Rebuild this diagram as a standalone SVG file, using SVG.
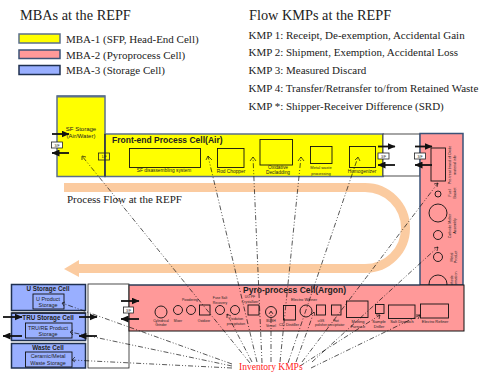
<svg xmlns="http://www.w3.org/2000/svg" width="485" height="372" viewBox="0 0 485 372">
<style>
text{font-family:"Liberation Sans",Arial,sans-serif;fill:#222}
.s{font-family:"Liberation Serif","Times New Roman",serif;fill:#222}
.h{font-size:14.300px}.k{font-size:11px}
.t{font-size:3.400px;text-anchor:middle}
.r{font-size:4px;text-anchor:middle}
.f{font-size:4.800px;text-anchor:middle}
.c{font-size:5.400px;text-anchor:middle}
.b{font-weight:bold}
.cell{font-size:6.300px;font-weight:bold;text-anchor:middle}
.y{fill:#ffff00;stroke:#5b6f8c;stroke-width:1.500}
.p{fill:#ff9999;stroke:#3b5378;stroke-width:1.500}
.u{fill:#99afff;stroke:#1f3050;stroke-width:1.500}
.o{fill:none;stroke:#111;stroke-width:.9}
.w{fill:#fff;stroke:#222;stroke-width:.8}
.ln{fill:none;stroke:#111;stroke-width:.7;stroke-dasharray:5 2 1 2 1 2}
.ar{fill:none;stroke:#111;stroke-width:.7}
.fa{fill:none;stroke:#111;stroke-width:1.800;marker-end:url(#m)}
</style>
<defs><marker id="m" markerUnits="userSpaceOnUse" markerWidth="8" markerHeight="7" refX="7.500" refY="3.500" orient="auto"><path d="M0 0L8 3.500L0 7z" fill="#111"/></marker></defs>
<g id="legend">
<text class="s h" x="20" y="20">MBAs at the REPF</text>
<rect class="y" x="19" y="34" width="41" height="9"/><text class="s k" x="66" y="42.500">MBA-1 (SFP, Head-End Cell)</text>
<rect class="p" x="19" y="50" width="41" height="8.500"/><text class="s k" x="66" y="58.500">MBA-2 (Pyroprocess Cell)</text>
<rect class="u" x="19" y="65.500" width="41" height="9"/><text class="s k" x="66" y="74">MBA-3 (Storage Cell)</text>
<text class="s h" x="249" y="20">Flow KMPs at the REPF</text>
<text class="s k" x="248.500" y="38.500">KMP 1: Receipt, De-exemption, Accidental Gain</text>
<text class="s k" x="248.500" y="56">KMP 2: Shipment, Exemption, Accidental Loss</text>
<text class="s k" x="248.500" y="73.500">KMP 3: Measured Discard</text>
<text class="s k" x="248.500" y="91.500">KMP 4: Transfer/Retransfer to/from Retained Waste</text>
<text class="s k" x="248.500" y="109.500">KMP *: Shipper-Receiver Difference (SRD)</text>
</g>
<g id="flow">
<path d="M64 187.500H365A40.500 40.500 0 0 1 365 268.500H78" fill="none" stroke="#fbcba0" stroke-width="9"/>
<path d="M64 269L79 260V277z" fill="#fbcba0"/>
<text class="s" font-size="11" x="67" y="203">Process Flow at the REPF</text>
</g>
<g id="sf-storage">
<rect class="y" x="57" y="96" width="48" height="80.500"/>
<path d="M57 96.500H105" stroke="#5b6f8c" stroke-width="2" fill="none"/>
<text font-size="6" text-anchor="middle" x="81" y="131">SF Storage</text><text font-size="6" text-anchor="middle" x="81" y="138">(Air/Water)</text>
</g>
<g id="front-end">
<rect class="y" x="105" y="134" width="278" height="42.500"/>
<path d="M105 134V176.500" stroke="#111" fill="none"/>
<text class="b" font-size="8.500" x="112" y="143">Front-end Process Cell(Air)</text>
<rect class="o" x="129.500" y="148.500" width="71" height="19"/><text class="f" x="164" y="172">SF disassembling system</text>
<rect class="o" x="217.500" y="148.500" width="26.500" height="19"/><text class="f" x="231" y="173">Rod Chopper</text>
<rect class="o" x="260" y="139.500" width="32.500" height="25.500"/><text class="f" x="278" y="168.500">Oxidative</text><text class="f" x="278" y="174">Decladding</text>
<rect class="o" x="310.500" y="146.500" width="21.500" height="17"/><text class="r" x="321" y="169">Metal waste</text><text class="r" x="321" y="174.500">processing</text>
<rect class="o" x="349.500" y="146.500" width="26" height="21"/><text class="f" x="362" y="173">Homogenizer</text>
</g>
<g id="airlock-top"><rect x="383" y="134" width="37" height="42" fill="#fff" stroke="#222" stroke-width=".8"/></g>
<g id="pyro-column">
<rect class="p" x="420" y="133.500" width="43" height="151.500"/>
<rect class="o" x="431" y="148" width="14.500" height="33"/>
<circle class="o" cx="438" cy="194" r="3"/><circle class="o" cx="438" cy="213" r="9"/><circle class="o" cx="438" cy="235" r="4.500"/><circle class="o" cx="438" cy="257" r="4.500"/><circle class="o" cx="438" cy="284" r="9"/>
<g font-size="3.600" text-anchor="middle">
<text transform="translate(451 165) rotate(-90)">Pre-treat brand of Oxide</text><text transform="translate(455.500 165) rotate(-90)">material info</text>
<text transform="translate(451 193) rotate(-90)">Fuel</text><text transform="translate(455.500 193) rotate(-90)">Basket</text>
<text transform="translate(451 226) rotate(-90)">Cathode Melter</text><text transform="translate(455.500 226) rotate(-90)">Assembly</text>
<text transform="translate(452.500 257) rotate(-90)">Metal</text><text transform="translate(457 257) rotate(-90)">Product</text>
<text transform="translate(452.500 282) rotate(-90)">Cathode</text><text transform="translate(457 282) rotate(-90)">ion formation</text>
</g>
</g>
<g id="airlock-bottom"><rect x="88" y="284" width="41" height="84" fill="#fff" stroke="#222" stroke-width=".8"/></g>
<g id="pyro-cell">
<rect x="129" y="285" width="335" height="46" fill="#ff9999" stroke="#111" stroke-width="1"/>
<path d="M129 285H420" stroke="#3b5378" fill="none"/>
<text class="b" font-size="8.500" x="243" y="293">Pyro-process Cell(Argon)</text>
<circle class="o" cx="161" cy="312" r="6"/><text class="t" x="161" y="322">Cylindrical</text><text class="t" x="161" y="326">Grinder</text>
<circle class="o" cx="178" cy="310" r="4.500"/><text class="t" x="178" y="322">Mixer</text>
<circle class="o" cx="191" cy="310" r="4.500"/><text class="t" x="190" y="301">Powdering</text>
<rect class="o" x="199.500" y="305" width="10.500" height="10"/><text class="t" x="204" y="322">Oxidizer</text>
<circle class="o" cx="220" cy="310" r="4.500"/><text class="t" x="220" y="299">Fuse Salt</text><text class="t" x="220" y="303.500">Recovery</text>
<circle class="o" cx="235" cy="310" r="4.500"/><text class="t" x="236" y="320">Oxidation</text><text class="t" x="236" y="324.500">precipitation</text>
<rect class="o" x="248" y="305" width="11" height="10"/><text class="t" x="250" y="298">UO PF</text><text class="t" x="250" y="302.500">Crystallizer</text>
<circle class="o" cx="271" cy="312" r="5.500"/><text class="t" x="271" y="322">BUSH</text><text class="t" x="271" y="327">Vessel</text>
<rect class="o" x="283.500" y="305.500" width="12" height="14.500"/><text class="r" x="289" y="325.500">CD Distiller</text>
<circle class="o" cx="306" cy="311" r="6"/><text class="r" x="304" y="301">Electro Winner</text>
<rect class="o" x="316.500" y="305" width="9" height="10"/><text class="t" x="321" y="322">uGS</text><text class="t" x="321" y="326">polisher</text>
<rect class="o" x="331.500" y="305" width="9.500" height="10"/><text class="t" x="336" y="322">Hot</text><text class="t" x="336" y="326">precipitator</text>
<rect class="o" x="346.500" y="301" width="21.500" height="16.500"/><text class="r" x="358" y="323">Melting</text><text class="r" x="358" y="328">Furnace</text>
<rect class="o" x="375.500" y="304.500" width="8.500" height="9"/><text class="r" x="379" y="323">Sample</text><text class="r" x="379" y="328">Driller</text>
<rect class="o" x="388.500" y="305" width="26.500" height="13.500"/><text class="r" x="402" y="323">Salt Dispatch</text>
<rect class="o" x="420.500" y="304" width="28" height="14"/><text class="r" x="435" y="323">Electro Refiner</text>
</g>
<g id="storage">
<rect class="u" x="11.500" y="284.500" width="74" height="26"/>
<text class="cell" x="48" y="291">U Storage Cell</text>
<rect class="o" x="33" y="294" width="31" height="15"/><text class="c" x="48" y="300.500">U Product</text><text class="c" x="48" y="307">Storage</text>
<rect class="u" x="11.500" y="313" width="74" height="27.500"/>
<path d="M11.500 313H85.500" stroke="#111" fill="none"/>
<text class="cell" x="48" y="319.500">TRU Storage Cell</text>
<rect class="o" x="25.500" y="323" width="46.500" height="15"/><text class="c" x="48" y="329.500">TRU/RE Product</text><text class="c" x="48" y="336">Storage</text>
<rect class="u" x="11.500" y="343.500" width="74" height="24.500"/>
<text class="cell" x="48" y="349.500">Waste Cell</text>
<rect class="o" x="25.500" y="352" width="46.500" height="15"/><text class="c" x="48" y="358">Ceramic/Metal</text><text class="c" x="48" y="364.500">Waste Storage</text>
</g>
<g id="connectors">
<path class="ln" d="M250 363L82 156"/><path class="ar" d="M82 160L82 156L86 157"/>
<path class="ln" d="M257 362L208 156"/><path class="ar" d="M206 160L208 156L212 160"/>
<path class="ln" d="M262 363L253 157"/><path class="ar" d="M250 161L253 157L256 161"/>
<path class="ln" d="M280 362L301 157"/><path class="ar" d="M298 161L301 157L304 161"/>
<path class="ln" d="M288 363L358 157"/><path class="ar" d="M355 160L358 157L360 161"/>
<path class="ln" d="M302 362L438 183"/><path class="ar" d="M434 184L438 183L437 187"/>
<path class="ln" d="M312 362L438 247"/><path class="ar" d="M434 248L438 247L437 251"/>
<path class="ln" d="M296 362L314 312"/><path class="ar" d="M311 315L314 312L315 316"/>
<path class="ln" d="M271 362V311"/><path class="ar" d="M269 314L271 311L273 314"/>
<path class="ln" d="M252 362L227 314"/><path class="ar" d="M227 318L227 314L231 316"/>
<path class="ln" d="M300 366L380 315"/><path class="ar" d="M376 315L380 315L379 319"/>
<path class="ln" d="M311 368L420 315"/><path class="ar" d="M416 315L420 315L418 319"/>
<path class="ln" d="M232 364L62 303"/><path class="ar" d="M65 302L62 303L64 306"/>
<path class="ln" d="M232 366L70 332"/><path class="ar" d="M73 330L70 332L73 335"/>
<path class="ln" d="M232 368L72 360"/><path class="ar" d="M75 357L72 360L75 362"/>
<path class="fa" d="M52 134H69"/><path class="fa" d="M69 153H52"/>
<path class="fa" d="M378 146.500H395"/><path class="fa" d="M395 165H378"/>
<path class="fa" d="M415 146.500H432"/><path class="fa" d="M432 165H415"/>
<path class="fa" d="M121 301H139"/><path class="fa" d="M139 319H121"/>
<path class="fa" d="M3 317H22"/><path class="fa" d="M22 336H3"/>
<path class="fa" d="M79 317H97"/><path class="fa" d="M97 336H79"/>
<rect class="w" x="51.500" y="142" width="11" height="6"/><rect x="98.500" y="153" width="11" height="7" fill="none" stroke="#222" stroke-width=".8"/>
<rect class="w" x="378" y="153" width="11" height="6"/><rect class="w" x="414.500" y="153" width="11" height="6"/>
<rect class="w" x="123.500" y="307" width="10" height="6"/>
</g>
<g id="kmp-labels" font-size="3.500" text-anchor="middle">
<text x="57" y="146.500">3/F</text><text x="104" y="158">1/F</text><text x="383.500" y="157.500">3/F</text><text x="420" y="157.500">3/F</text><text x="128.500" y="311.500">3/F</text>
</g>
<text class="s" id="inventory" x="239" y="370" font-size="9.500" style="fill:#ff2020">Inventory KMPs</text>
</svg>
